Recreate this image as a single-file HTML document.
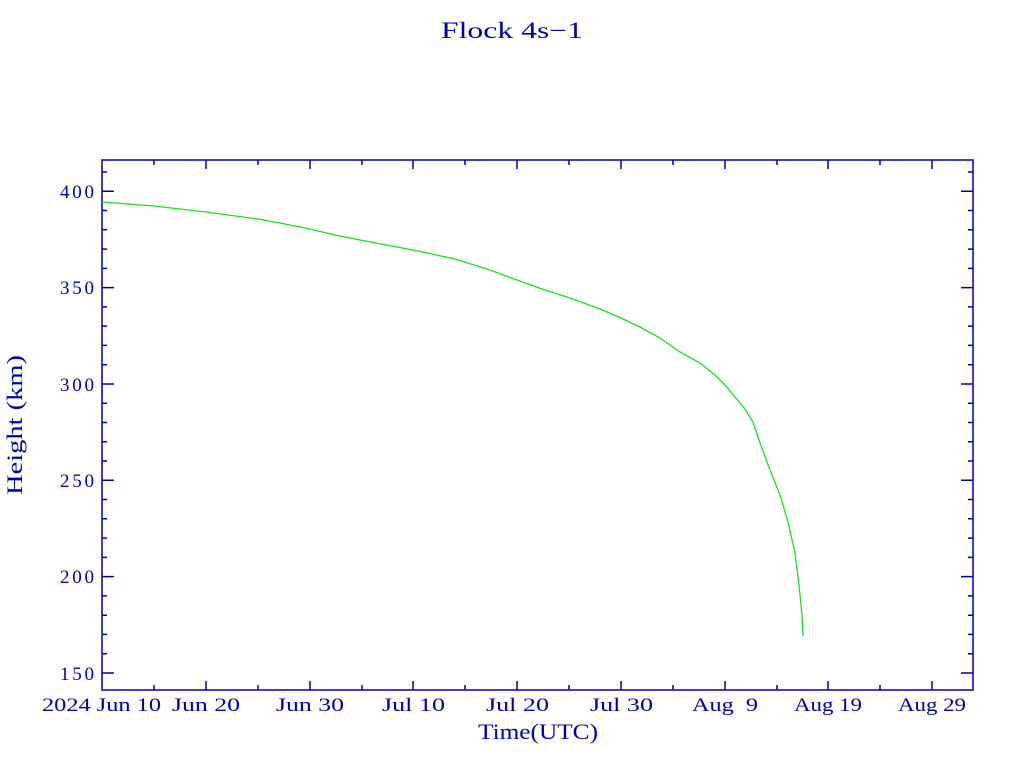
<!DOCTYPE html>
<html><head><meta charset="utf-8"><style>
html,body{margin:0;padding:0;background:#fff;}
svg text{font-family:"Liberation Serif","DejaVu Serif",serif;fill:#0000a8;}
</style></head><body>
<svg width="1024" height="768" xmlns="http://www.w3.org/2000/svg">
<text x="441" y="38" font-size="23" textLength="142" lengthAdjust="spacingAndGlyphs">Flock 4s−1</text>
<g stroke="#0000a8" stroke-width="1.5" fill="none">
<rect x="102" y="160" width="871" height="530"/>
<path d="
M102,673h12M973,673h-12
M102,576.6h12M973,576.6h-12
M102,480.3h12M973,480.3h-12
M102,384h12M973,384h-12
M102,287.6h12M973,287.6h-12
M102,191.3h12M973,191.3h-12
M102,653.7h5M102,634.4h5M102,615.2h5M102,595.9h5M102,557.4h5M102,538.1h5M102,518.8h5M102,499.5h5M102,461h5M102,441.7h5M102,422.5h5M102,403.2h5M102,364.7h5M102,345.4h5M102,326.1h5M102,306.9h5M102,268.4h5M102,249.1h5M102,229.8h5M102,210.5h5M102,172h5
M973,653.7h-5M973,634.4h-5M973,615.2h-5M973,595.9h-5M973,557.4h-5M973,538.1h-5M973,518.8h-5M973,499.5h-5M973,461h-5M973,441.7h-5M973,422.5h-5M973,403.2h-5M973,364.7h-5M973,345.4h-5M973,326.1h-5M973,306.9h-5M973,268.4h-5M973,249.1h-5M973,229.8h-5M973,210.5h-5M973,172h-5
M206,690v-9M310,690v-9M413,690v-9M517,690v-9M621,690v-9M725,690v-9M828,690v-9M932,690v-9
M154,690v-5M258,690v-5M362,690v-5M465,690v-5M569,690v-5M673,690v-5M777,690v-5M880,690v-5
M206,160v9M310,160v9M413,160v9M517,160v9M621,160v9M725,160v9M828,160v9M932,160v9
M154,160v5M258,160v5M362,160v5M465,160v5M569,160v5M673,160v5M777,160v5M880,160v5"/>
</g>
<g font-size="19" lengthAdjust="spacingAndGlyphs">
<text x="60" y="680" textLength="34">150</text>
<text x="60" y="583" textLength="34">200</text>
<text x="60" y="487" textLength="34">250</text>
<text x="60" y="391" textLength="34">300</text>
<text x="60" y="294" textLength="34">350</text>
<text x="60" y="198" textLength="34">400</text>
</g>
<g font-size="19">
<text x="42" y="711" textLength="119" lengthAdjust="spacingAndGlyphs">2024 Jun 10</text>
<text x="172" y="711" textLength="68" lengthAdjust="spacingAndGlyphs">Jun 20</text>
<text x="276" y="711" textLength="68" lengthAdjust="spacingAndGlyphs">Jun 30</text>
<text x="382" y="711" textLength="63" lengthAdjust="spacingAndGlyphs">Jul 10</text>
<text x="486" y="711" textLength="63" lengthAdjust="spacingAndGlyphs">Jul 20</text>
<text x="590" y="711" textLength="63" lengthAdjust="spacingAndGlyphs">Jul 30</text>
<text x="692" y="711" textLength="66" lengthAdjust="spacingAndGlyphs" xml:space="preserve">Aug  9</text>
<text x="794" y="711" textLength="68" lengthAdjust="spacingAndGlyphs">Aug 19</text>
<text x="898" y="711" textLength="68" lengthAdjust="spacingAndGlyphs">Aug 29</text>
</g>
<text x="478" y="739" font-size="22" textLength="120" lengthAdjust="spacingAndGlyphs">Time(UTC)</text>
<text transform="translate(22,495) rotate(-90)" font-size="22" textLength="140" lengthAdjust="spacingAndGlyphs">Height (km)</text>
<polyline fill="none" stroke="#22dd22" stroke-width="1.3" points="102,202 154,206 206,212 258,219 285,224 310,229 335,235 360,240 413,250 455,259 490,270 517,280 545,290 570,298 600,309 621,318 640,327 660,338 680,352 700,363 715,375 725,385 735,397 745,409 753,422 760,443 770,470 780,495 788,522 795,553 799,585 802,615 803,636"/>
</svg>
</body></html>
